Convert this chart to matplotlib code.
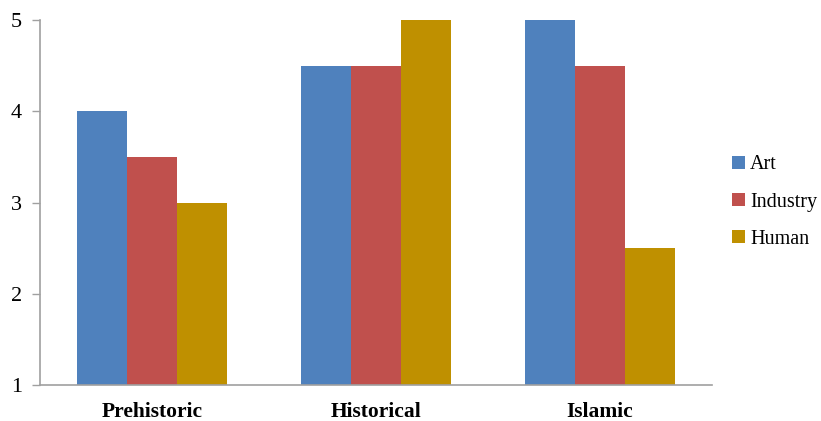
import matplotlib.pyplot as plt
import numpy as np

plt.rcParams['font.family'] = ['Liberation Serif', 'DejaVu Serif']

categories = ['Prehistoric', 'Historical', 'Islamic']
series = ['Art', 'Industry', 'Human']
art = [4, 4.5, 5]
industry = [3.5, 4.5, 4.5]
human = [3, 5, 2.5]
colors = ['#4F81BD', '#C0504D', '#BF9000']

fig = plt.figure(figsize=(8.21, 4.21), dpi=100)
ax = fig.add_axes([40/821, 36/421, 672/821, 365/421])

x = np.arange(len(categories))
w = 0.223
for i, (name, vals) in enumerate(zip(series, [art, industry, human])):
    ax.bar(x + (i - 1) * w, np.array(vals) - 1, width=w, bottom=1,
           color=colors[i], label=name, zorder=2)

ax.set_xlim(-0.5, 2.5)
ax.set_ylim(1, 5)
ax.set_yticks([1, 2, 3, 4, 5])
ax.set_xticks(x)
ax.set_xticklabels(categories, fontweight='bold', fontsize=15.5)
ax.tick_params(axis='x', length=0, pad=12)
ax.tick_params(axis='y', length=6, width=1, color='#A0A0A0', labelsize=16, pad=7)
for s in ['top', 'right']:
    ax.spines[s].set_visible(False)
for s in ['left', 'bottom']:
    ax.spines[s].set_color('#A0A0A0')
    ax.spines[s].set_linewidth(1.2)

ax.legend(loc='center left', bbox_to_anchor=(732/821, 1 - 202/421),
          bbox_transform=fig.transFigure, frameon=False,
          fontsize=14.5, handlelength=0.65, handleheight=0.65, handletextpad=0.25,
          labelspacing=0.9, borderaxespad=0, borderpad=0)

fig.savefig('out.png', dpi=100)
